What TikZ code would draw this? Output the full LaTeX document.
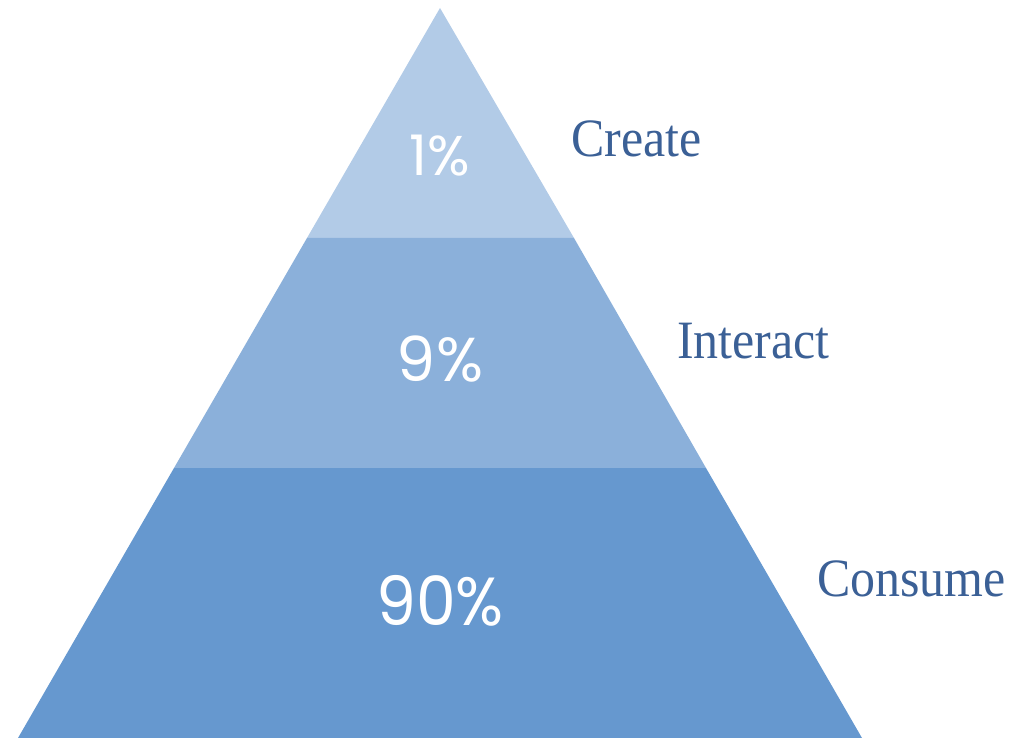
\documentclass[tikz,border=0pt]{standalone}
\usepackage{fontspec}
\setmainfont{Liberation Serif}
\newfontfamily\pctfont{Poppins}
\definecolor{topband}{HTML}{B2CBE7}
\definecolor{midband}{HTML}{8BB0DA}
\definecolor{lowband}{HTML}{6698CF}
\definecolor{labelblue}{HTML}{3B6096}
\begin{document}
\begin{tikzpicture}[x=1pt,y=-1pt,
  lbl/.style={font=\fontsize{54}{54}\selectfont, text=labelblue, anchor=base west, inner sep=0pt, xscale=0.925},
  pct/.style={font=\pctfont\fontsize{#1}{#1}\selectfont, text=white, inner sep=0pt}]
\useasboundingbox (0,0) rectangle (1026,738);
\coordinate (apex) at (440,8);
\coordinate (bl) at (18,738);
\coordinate (br) at (862,738);
\coordinate (ml1) at (307,238);
\coordinate (mr1) at (574,238);
\coordinate (ml2) at (174,468);
\coordinate (mr2) at (706,468);
\fill[topband] (apex) -- (mr1) -- (ml1) -- cycle;
\fill[midband] (ml1) -- (mr1) -- (mr2) -- (ml2) -- cycle;
\fill[lowband] (ml2) -- (mr2) -- (br) -- (bl) -- cycle;
\node[pct=56] (p1) at (440,156) {1\%};
\node[pct=62] (p9) at (440,359) {9\%};
\node[pct=68, xscale=0.93] (p90) at (440,601) {90\%};
\node[lbl] (create) at (571,157) {Create};
\node[lbl] (interact) at (677,358) {Interact};
\node[lbl] (consume) at (817,596) {Consume};
\end{tikzpicture}
\end{document}
